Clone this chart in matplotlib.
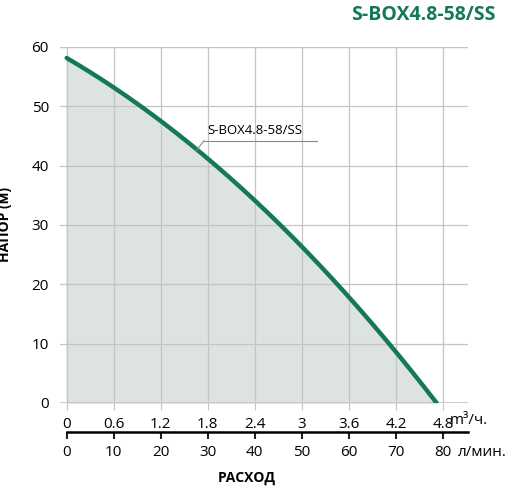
import matplotlib
matplotlib.use("Agg")
import matplotlib.pyplot as plt
import numpy as np

plt.rcParams["font.family"] = ["Open Sans", "DejaVu Sans"]

GREEN = "#137a55"
FILL = "#dde3e3"
GRID = "#c4c4c4"

flow_m3h = [0, 0.6, 1.2, 1.8, 2.4, 3.0, 3.6, 4.2, 4.72]
head_m = [58, 53.5, 47.5, 41, 34, 26.5, 18, 8.5, 0]
x_ticks = [0, 0.6, 1.2, 1.8, 2.4, 3, 3.6, 4.2, 4.8]
x_labels = ["0", "0.6", "1.2", "1.8", "2.4", "3", "3.6", "4.2", "4.8"]
lpm_labels = ["0", "10", "20", "30", "40", "50", "60", "70", "80"]
y_ticks = [0, 10, 20, 30, 40, 50, 60]
model = "S-BOX4.8-58/SS"

fig = plt.figure(figsize=(5.08, 4.87), dpi=100)
ax = fig.add_axes([60 / 508, 1 - 403 / 487, 408 / 508, 356 / 487])

xs = np.linspace(0, flow_m3h[-1], 200)
# smooth curve through the read points
coef = np.polyfit(flow_m3h, head_m, 3)
ys = np.polyval(coef, xs)
ys[-1] = 0
ax.fill_between(xs, 0, ys, color=FILL, zorder=1)
ax.plot(xs, ys, color=GREEN, lw=3.2, solid_capstyle="round", zorder=3)

ax.set_xlim(-0.085, 5.12)
ax.set_ylim(0, 60)
ax.set_xticks(x_ticks)
ax.set_xticklabels(x_labels, fontsize=11)
ax.set_yticks(y_ticks)
ax.tick_params(axis="y", length=0, labelsize=11, pad=8)
ax.tick_params(axis="x", length=5, color=GRID, pad=5)
ax.grid(True, color=GRID, lw=0.9, zorder=0)
for s in ax.spines.values():
    s.set_visible(False)
ax.axhline(0, color=GRID, lw=1.2, zorder=2)
ax.axhline(60, color=GRID, lw=0.9, zorder=0)

fig.text(0.885, 1 - 420 / 487, "m³/ч.", ha="left", va="center", fontsize=11)

# second scale (l/min)
sec = ax.secondary_xaxis(-0.0815)
sec.set_xticks(x_ticks)
sec.set_xticklabels(lpm_labels, fontsize=11)
sec.tick_params(length=5, width=1.5, color="#222222", direction="out", pad=4)
sec.spines["bottom"].set_linewidth(1.8)
sec.spines["bottom"].set_bounds(0, 5.12)
fig.text(0.902, 1 - 453 / 487, "л/мин.", ha="left", va="center", fontsize=11)

fig.text(247 / 508, 1 - 478 / 487, "РАСХОД", ha="center", va="center", fontsize=10, fontweight="bold")
ax.set_ylabel("НАПОР (м)", fontsize=10, fontweight="bold", labelpad=14)

# curve label with leader
ax.text(1.8, 44.8, model, fontsize=9.5, ha="left", va="bottom")
ax.plot([1.75, 3.2], [44.2, 44.2], color="#888888", lw=0.8, zorder=4)
ax.plot([1.75, 1.66], [44.2, 42.6], color="#888888", lw=0.8, zorder=4)

fig.text(0.975, 0.97, model, color=GREEN, fontsize=14, fontweight="bold", ha="right", va="center")

fig.savefig("out.png", dpi=100)
